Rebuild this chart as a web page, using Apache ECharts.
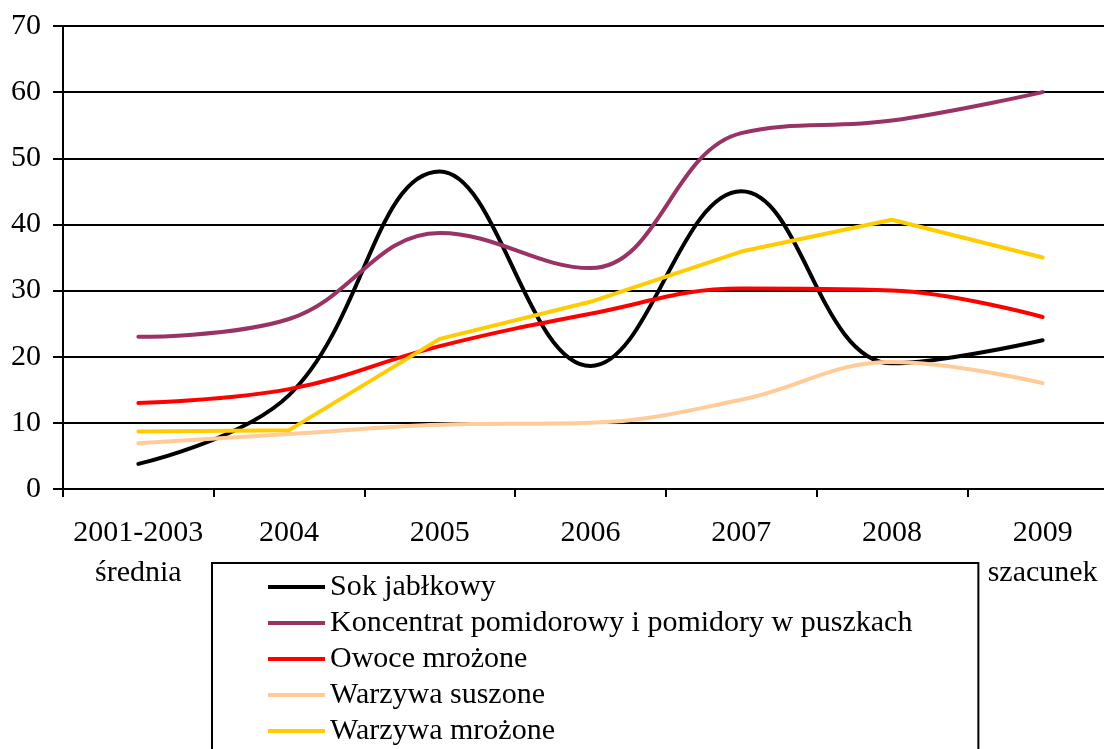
<!DOCTYPE html>
<html>
<head>
<meta charset="utf-8">
<script src="https://cdn.jsdelivr.net/npm/echarts@6/dist/echarts.min.js"></script>
<style>
  html, body { margin: 0; padding: 0; background: #fff; }
  #main { width: 1104px; height: 749px; }
</style>
</head>
<body>
<div id="main"></div>
<script>
// kategorie (lata)
const categories = ['2001-2003\nśrednia', '2004', '2005', '2006', '2007', '2008', '2009\nszacunek'];
const yTicks = [0, 10, 20, 30, 40, 50, 60, 70];

// wartości serii
const sokJablkowy = [3.8, 14.2, 48, 18.6, 45, 19, 22.5];
const koncentrat = [23, 25.7, 38.7, 33.4, 53.8, 55.7, 60];
const owoceMrozone = [13, 15.1, 21.6, 26.5, 30.3, 30, 26];
const warzywaSuszone = [6.9, 8.3, 9.7, 10, 13.5, 19.2, 16];
const warzywaMrozone = [8.7, 8.9, 22.7, 28.3, 35.9, 40.7, 35];

const font = "'Liberation Serif', 'Times New Roman', serif";

const makeSeries = (name, data, color, smooth) => ({
  name: name,
  type: 'line',
  data: data,
  smooth: smooth,
  symbol: 'none',
  lineStyle: { color: color, width: 4, cap: 'round' },
  itemStyle: { color: color },
});

const myChart = echarts.init(document.getElementById('main'));
myChart.setOption({
  animation: false,
  textStyle: { fontFamily: font },
  grid: {
    left: 63,
    top: 26,
    width: 1055,
    height: 463,
    outerBoundsMode: 'none',
    containLabel: false,
  },
  legend: {
    orient: 'vertical',
    left: 212,
    top: 563,
    height: 400,
    backgroundColor: '#fff',
    borderColor: '#000',
    borderWidth: 2,
    borderRadius: 0,
    padding: [8, 66, 60, 56],
    itemWidth: 57,
    itemHeight: 4,
    itemGap: 4,
    icon: 'rect',
    textStyle: { fontFamily: font, fontSize: 30, color: '#000', lineHeight: 32 },
    data: ['Sok jabłkowy', 'Koncentrat pomidorowy i pomidory w puszkach', 'Owoce mrożone', 'Warzywa suszone', 'Warzywa mrożone'],
  },
  xAxis: {
    type: 'category',
    data: categories,
    boundaryGap: true,
    axisLine: { lineStyle: { color: '#000', width: 2 } },
    axisTick: { show: true, length: 8, lineStyle: { color: '#000', width: 2 } },
    axisLabel: {
      color: '#000',
      fontFamily: font,
      fontSize: 30,
      lineHeight: 40,
      margin: 24,
      interval: 0,
    },
  },
  yAxis: {
    type: 'value',
    min: yTicks[0],
    max: yTicks[yTicks.length - 1],
    interval: 10,
    axisLine: { show: true, lineStyle: { color: '#000', width: 2 } },
    axisTick: { show: true, length: 10, lineStyle: { color: '#000', width: 2 } },
    axisLabel: { color: '#000', fontFamily: font, fontSize: 30, margin: 22 },
    splitLine: { lineStyle: { color: '#000', width: 2 } },
  },
  series: [
    makeSeries('Sok jabłkowy', sokJablkowy, '#000000', 0.4),
    makeSeries('Koncentrat pomidorowy i pomidory w puszkach', koncentrat, '#993366', 0.4),
    makeSeries('Owoce mrożone', owoceMrozone, '#FF0000', 0.4),
    makeSeries('Warzywa suszone', warzywaSuszone, '#FFCC99', 0.4),
    makeSeries('Warzywa mrożone', warzywaMrozone, '#FFCC00', false),
  ],
});
</script>
</body>
</html>
